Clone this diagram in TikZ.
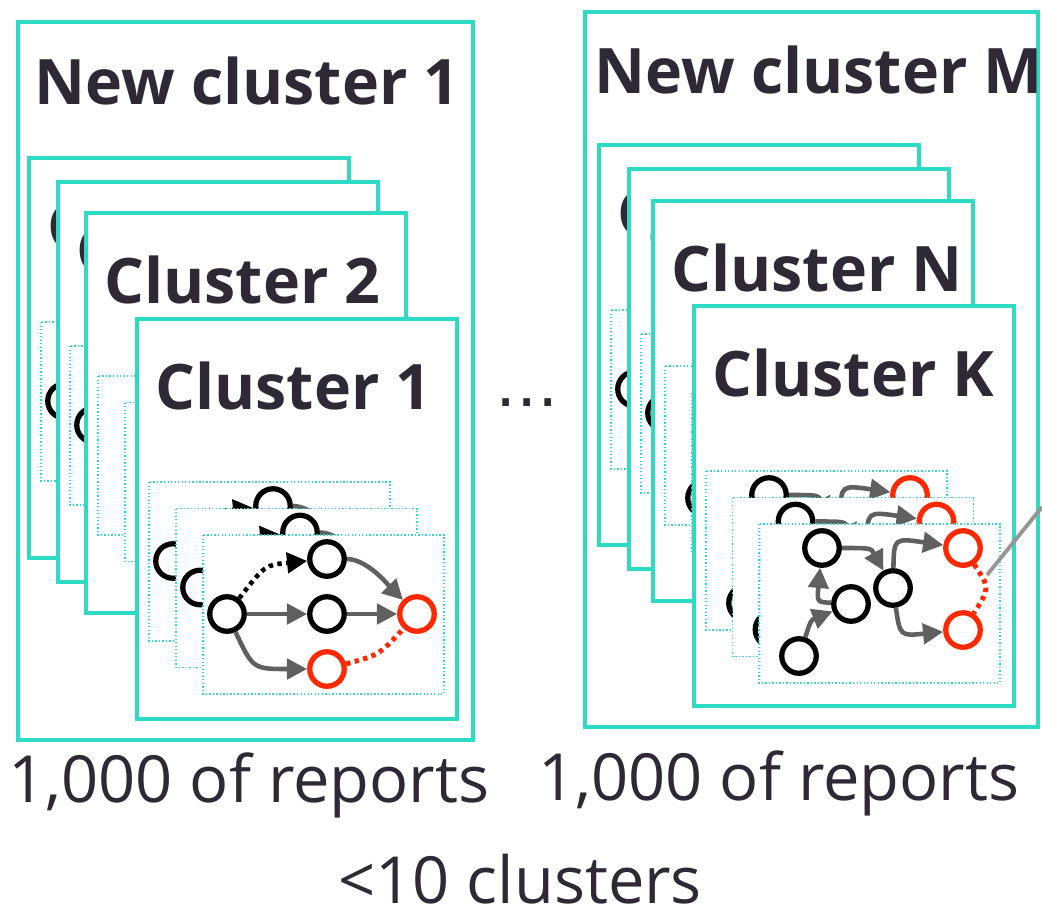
\documentclass[tikz,border=0pt]{standalone}
\usepackage{fontspec}
\setmainfont{Open Sans}
\newfontfamily\dotsfont{DejaVu Sans}
\usetikzlibrary{arrows.meta}

\definecolor{cardteal}{RGB}{45,219,196}
\definecolor{ink}{RGB}{46,41,52}
\definecolor{hotred}{RGB}{255,40,0}
\definecolor{edgegray}{RGB}{96,96,96}
\definecolor{leadgray}{RGB}{150,150,150}

\tikzset{
  card/.style={draw=cardteal, line width=2.8pt, fill=white},
  panel/.style={draw=cardteal, line width=0.8pt, dash pattern=on 0.8pt off 1.2pt, fill=white},
  vtx/.style={circle, draw=black, line width=3pt, minimum size=0.69cm, inner sep=0pt, fill=white},
  hot/.style={vtx, draw=hotred},
  flow/.style={draw=edgegray, line width=2.6pt, -{Triangle[length=11.5pt,width=11.5pt]}},
  hint/.style={draw=black, line width=2.6pt, dash pattern=on 2.5pt off 2.5pt, -{Triangle[length=11.5pt,width=11.5pt]}},
  link/.style={draw=hotred, line width=2.8pt, dash pattern=on 2.5pt off 2.5pt},
  title/.style={anchor=base west, inner sep=0pt, text=ink, font=\fontsize{35.7}{40}\selectfont\bfseries},
  caption/.style={anchor=base west, inner sep=0pt, text depth=0pt, text=ink, font=\fontsize{37}{40}\selectfont},
}

% card with its heading: #1,#2 top-left corner, #3 node name, #4 heading
\newcommand{\clustercard}[4]{%
  \draw[card] (#1,#2) rectangle ++(320,400);
  \node[title] (#3) at ({#1+18},{#2+90}) {#4};
}

% report graph with three branches: #1,#2 panel corner, #3 name prefix
\newcommand{\branchgraph}[3]{%
  \begin{scope}[shift={(#1,#2)}]
    \draw[panel] (0,0) rectangle (241,159);
    \node[vtx] (#3a) at (24,79) {};
    \node[vtx] (#3b) at (124,24) {};
    \node[vtx] (#3c) at (124,79) {};
    \node[hot] (#3d) at (214,79) {};
    \node[hot] (#3e) at (124,134) {};
    \draw[hint] (#3a) .. controls (62,30) .. (#3b);
    \draw[flow] (#3a) -- (#3c);
    \draw[flow] (#3a) .. controls (50,134) .. (#3e);
    \draw[flow] (#3b) .. controls (165,24) and (188,53) .. (#3d);
    \draw[flow] (#3c) -- (#3d);
    \draw[link] (#3e) .. controls (176,120) .. (#3d);
  \end{scope}}

% report graph with a fork: #1,#2 panel corner, #3 name prefix
\newcommand{\forkgraph}[3]{%
  \begin{scope}[shift={(#1,#2)}]
    \draw[panel] (0,0) rectangle (241,159);
    \node[vtx] (#3p) at (40,132) {};
    \node[vtx] (#3q) at (63,24) {};
    \node[vtx] (#3r) at (92,80) {};
    \node[vtx] (#3s) at (134,64) {};
    \node[hot] (#3t) at (204,24) {};
    \node[hot] (#3u) at (204,106) {};
    \draw[flow] (#3p) .. controls (52,96) .. (#3r);
    \draw[flow] (#3r) .. controls (58,78) .. (#3q);
    \draw[flow] (#3q) .. controls (112,24) .. (#3s);
    \draw[flow] (#3s) .. controls (135,14) .. (#3t);
    \draw[flow] (#3s) .. controls (141,112) .. (#3u);
    \draw[link] (#3t) .. controls (231,64) .. (#3u);
  \end{scope}}

% empty stack of three panels
\newcommand{\emptypanels}[2]{%
  \draw[panel] (#1,#2) rectangle ++(241,159);
  \draw[panel] ({#1+27},{#2+26.5}) rectangle ++(241,159);
  \draw[panel] ({#1+54},{#2+53}) rectangle ++(241,159);
}

\begin{document}
\begin{tikzpicture}[x=0.02cm, y=-0.02cm]
  \useasboundingbox (0,0) rectangle (1042,910);
  \fill[white] (0,0) rectangle (1042,910);

  % ---------- first merged cluster ----------
  \draw[card] (18,22) rectangle (473,740);
  \node[title] (new1) at (34,104) {New cluster 1};

  \clustercard{29}{158}{lA}{C}
  \branchgraph{41}{322}{lAg1}
  \branchgraph{68}{348.5}{lAg2}
  \branchgraph{95}{375}{lAg3}

  \clustercard{58}{182}{lB}{C}
  \branchgraph{70}{346}{lBg1}
  \branchgraph{97}{372.5}{lBg2}
  \branchgraph{124}{399}{lBg3}

  \clustercard{86}{213}{lC}{Cluster 2}
  \emptypanels{98}{376}

  \clustercard{137}{319}{lD}{Cluster 1}
  \branchgraph{149}{482}{lDg1}
  \branchgraph{176}{508.5}{lDg2}
  \branchgraph{203}{535}{lDg3}

  \node[caption] (rep1) at (8,802) {1,000 of reports};

  % ---------- ellipsis between groups ----------
  \node[anchor=base, inner sep=0pt, text=ink, font=\dotsfont\fontsize{36}{40}\selectfont] (dots) at (527,406) {…};

  % ---------- last merged cluster ----------
  \draw[card] (585,12) rectangle (1038,727);
  \node[title] (newM) at (594,93) {New cluster M};

  \clustercard{599}{145}{rA}{C}
  \branchgraph{611}{310}{rAg1}
  \branchgraph{638}{336.5}{rAg2}
  \branchgraph{665}{363}{rAg3}

  \clustercard{629}{169}{rB}{C}
  \branchgraph{641}{334}{rBg1}
  \branchgraph{668}{360.5}{rBg2}
  \branchgraph{695}{387}{rBg3}

  \clustercard{653}{201}{rC}{Cluster N}
  \forkgraph{665}{366}{rCg1}
  \forkgraph{692}{392.5}{rCg2}
  \forkgraph{719}{419}{rCg3}

  \clustercard{694}{306}{rD}{Cluster K}
  \forkgraph{706}{471}{rDg1}
  \forkgraph{732.5}{497.5}{rDg2}
  \forkgraph{759}{524}{rDg3}

  % lead line leaving the last report
  \coordinate (leadin) at (987,575);
  \coordinate (leadout) at (1042,507);
  \draw[leadgray, line width=2.2pt] (leadin) -- (leadout);

  \node[caption] (repM) at (538,800) {1,000 of reports};

  % ---------- total ----------
  \node[caption] (total) at (338,903) {<10 clusters};
\end{tikzpicture}
\end{document}
